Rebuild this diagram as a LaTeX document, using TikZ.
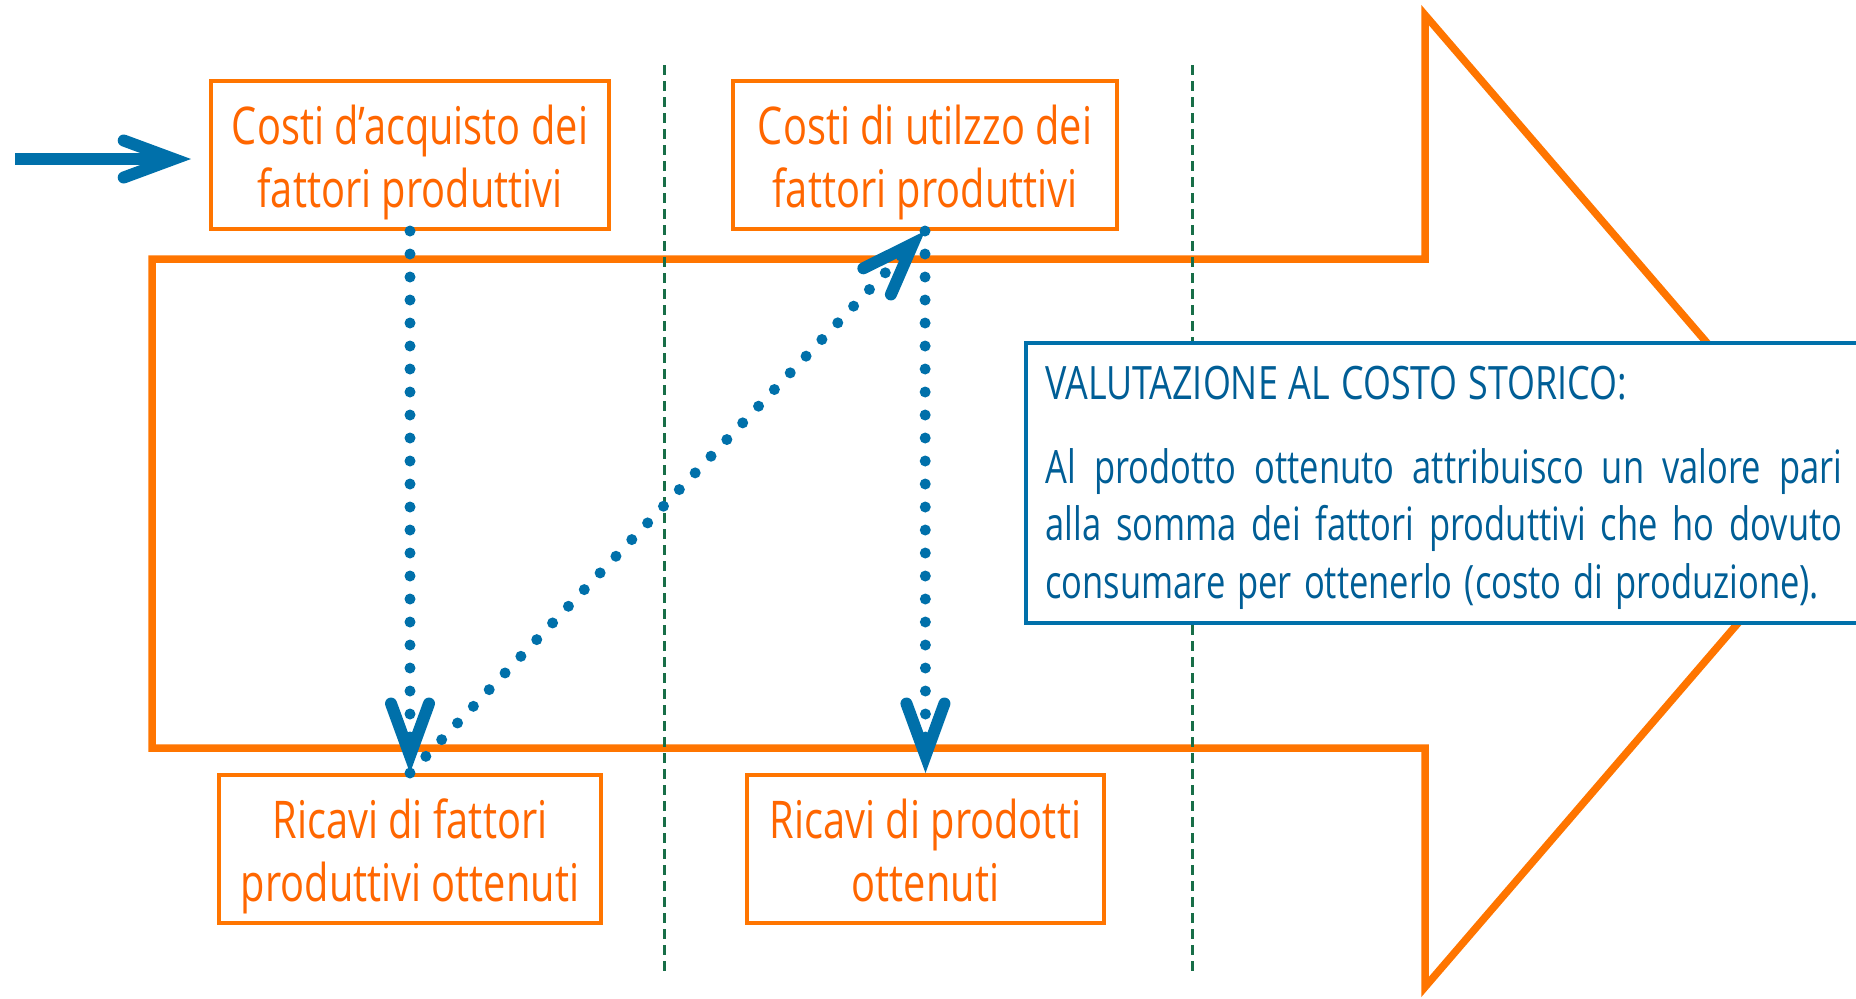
\documentclass[tikz,border=0pt]{standalone}
\usepackage{fontspec}
\setmainfont[FakeStretch=0.765]{Open Sans}
\newfontfamily\parafont[FakeStretch=0.75]{Open Sans}
\newfontfamily\titlefont[FakeStretch=0.78]{Open Sans}
\usetikzlibrary{arrows.meta}
\definecolor{aor}{RGB}{255,117,0}
\definecolor{tor}{RGB}{255,102,0}
\definecolor{ablue}{RGB}{0,112,170}
\definecolor{tblue}{RGB}{0,94,150}
\definecolor{dgreen}{RGB}{24,110,72}
\newcommand{\topst}{\rule{0pt}{27.5pt}}
\newcommand{\botst}{\rule[-7pt]{0pt}{7pt}}
\newcommand{\fullline}[1]{\makebox[398.5pt][s]{#1}}
\begin{document}
\begin{tikzpicture}[x=0.5pt,y=-0.5pt,
  obox/.style={draw=aor, line width=2pt, minimum height=74pt, inner sep=0pt,
    text=tor, font=\fontsize{26}{31.5}\selectfont, align=center},
  bigarrow/.style={draw=aor, line width=3.75pt, line join=miter},
  divider/.style={draw=dgreen, line width=1.5pt, dash pattern=on 5pt off 3pt},
  dotarrow/.style={draw=ablue, line width=5.5pt, line cap=round,
    dash pattern=on 0pt off 11.5pt,
    -{Straight Barb[length=26pt, width=19pt, line width=6pt, line cap=round, line join=miter]}},
  inarrow/.style={draw=ablue, line width=6pt,
    -{Straight Barb[length=25pt, width=18.5pt, line cap=round, line join=miter]}}
]
\useasboundingbox (0,0) rectangle (1856,998);
\clip (0,0) rectangle (1856,998);

% big orange arrow
\draw[bigarrow] (152,259) -- (1425,259) -- (1425,15) -- (1843,501)
  -- (1425,987) -- (1425,748) -- (152,748) -- cycle;

% dashed dividers
\draw[divider] (664,65) -- (664,971);
\draw[divider] (1192,65) -- (1192,971);

% boxes
\node[obox, minimum width=199pt] (b1) at (410,155)
  {\topst Costi d’acquisto dei\\fattori produttivi\botst};
\node[obox, minimum width=192pt] (b2) at (925,155)
  {\topst Costi di utilzzo dei\\fattori produttivi\botst};
\node[obox, minimum width=191pt] (b3) at (410,849)
  {\topst Ricavi di fattori\\produttivi ottenuti\botst};
\node[obox, minimum width=178.5pt] (b4) at (925.5,849)
  {\topst Ricavi di prodotti\\ottenuti\botst};

% blue box
\node[draw=ablue, line width=2pt, fill=white, anchor=north west,
  minimum width=430pt, minimum height=140pt, inner sep=0pt] (vbox) at (1024,341) {};
\node[anchor=north west, inner sep=0pt, text width=398.5pt, align=left,
  text=tblue, font=\fontsize{23}{28.75}\selectfont] (vtext) at (1045,359)
  {\titlefont\spaceskip=5.5pt plus 8pt minus 1pt\rule{0pt}{20pt}VALUTAZIONE AL COSTO STORICO:\\[13.25pt]%
   \parafont\spaceskip=6pt plus 20pt minus 1.5pt%
   \fullline{Al prodotto ottenuto attribuisco un valore pari}\\%
   \fullline{alla somma dei fattori produttivi che ho dovuto}\\%
   consumare per ottenerlo (costo di produzione).};

% dotted connectors
\draw[dotarrow] (b1.south) -- (b3.north);
\draw[dotarrow] (b3.north) -- (b2.south);
\draw[dotarrow] (b2.south) -- (b4.north);

% incoming arrow
\coordinate (src) at (15,159);
\draw[inarrow, shorten >=9pt] (src) -- (src -| b1.west);
\end{tikzpicture}
\end{document}
